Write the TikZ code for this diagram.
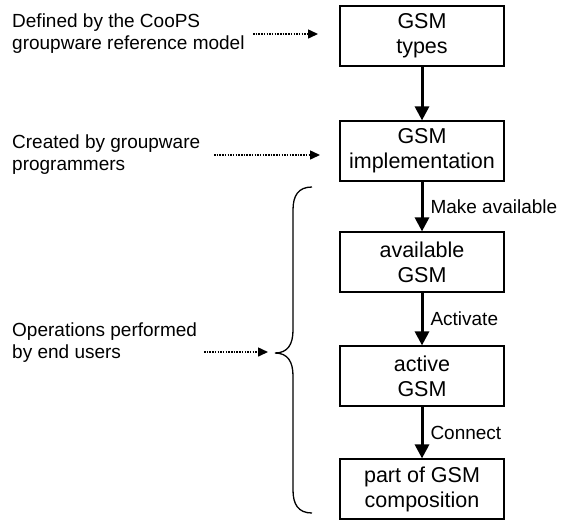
\documentclass[tikz,border=0pt]{standalone}
\usepackage{fontspec}
\setmainfont{Liberation Sans}
\usetikzlibrary{arrows.meta}
\begin{document}
\begin{tikzpicture}[x=1pt,y=-1pt,
  font=\fontsize{19}{22}\selectfont,
  box/.style={draw, line width=1.2pt, minimum width=164pt, minimum height=60pt, align=center, inner sep=0pt, font=\fontsize{21.5}{25}\selectfont},
  flow/.style={line width=3pt, -{Triangle[length=14pt,width=14pt]}},
  note/.style={anchor=west, align=left, inner sep=0pt},
  pointer/.style={line width=1.5pt, dash pattern=on 1.5pt off 1.2pt, -{Triangle[length=10pt,width=9pt]}},
  flowlabel/.style={anchor=west, xshift=5pt, inner sep=2pt},
  bracestyle/.style={line width=1.3pt}]
\useasboundingbox (0,0) rectangle (561,520);
\fill[white] (0,0) rectangle (561,520);

% boxes
\node[box] (b1) at (422,36)  {GSM\\types};
\node[box] (b2) at (422,151) {GSM\\implementation};
\node[box] (b3) at (422,262) {available\\GSM};
\node[box] (b4) at (422,376) {active\\GSM};
\node[box] (b5) at (422,489) {part of GSM\\composition};

% flow arrows
\draw[flow] (b1.south) -- (b2.north);
\draw[flow] (b2.south) -- node[flowlabel] {Make available} (b3.north);
\draw[flow] (b3.south) -- node[flowlabel] {Activate} (b4.north);
\draw[flow] (b4.south) -- node[flowlabel] {Connect} (b5.north);

% left notes
\node[note] (t1) at (12,34)  {Defined by the CooPS\\groupware reference model};
\node[note] (t2) at (12,155) {Created by groupware\\programmers};
\node[note] (t3) at (12,343) {Operations performed\\by end users};

% pointer coordinates
\coordinate (p1s) at (253,34);
\coordinate (p1e) at (318,34);
\coordinate (p2s) at (214,155);
\coordinate (p2e) at (320,155);
\coordinate (p3s) at (204,352);
\coordinate (p3e) at (268,352);
\coordinate (brtip) at (275,353);

\draw[pointer] (p1s) -- (p1e);
\draw[pointer] (p2s) -- (p2e);
\draw[pointer] (p3s) -- (p3e);

% brace
\draw[bracestyle] (312,187) .. controls (298,187) and (293,196) .. (293,210)
  -- (293,330) .. controls (293,344) and (288,353) .. (brtip)
  .. controls (288,353) and (293,362) .. (293,376)
  -- (293,490) .. controls (293,504) and (298,513) .. (312,513);
\end{tikzpicture}
\end{document}
